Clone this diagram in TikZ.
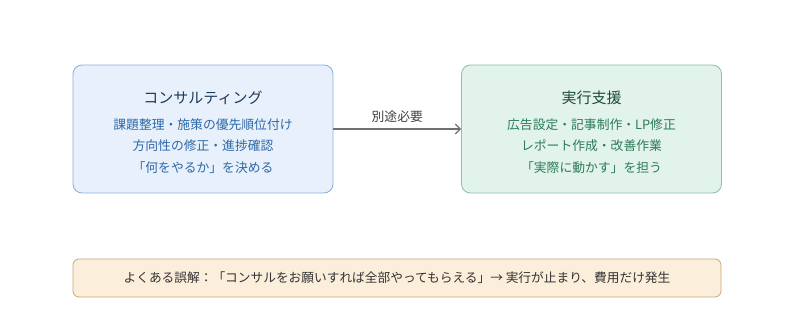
\documentclass[tikz,border=0pt]{standalone}
\usepackage{fontspec}
\setmainfont{Noto Sans CJK JP}
\usetikzlibrary{arrows.meta}

\definecolor{consultfill}{HTML}{E8F1FB}
\definecolor{consultdraw}{HTML}{8AAEDC}
\definecolor{consulttitle}{HTML}{1F3B5C}
\definecolor{consulttext}{HTML}{2D68A8}
\definecolor{supportfill}{HTML}{E2F3EB}
\definecolor{supportdraw}{HTML}{86C2A4}
\definecolor{supporttitle}{HTML}{1D4A36}
\definecolor{supporttext}{HTML}{2C7C58}
\definecolor{notefill}{HTML}{FBEEDB}
\definecolor{notedraw}{HTML}{C8A67C}
\definecolor{arrowgray}{HTML}{707070}

\tikzset{
  roundbox/.style={rounded corners=9pt, line width=0.8pt, minimum width=260pt, minimum height=128pt},
  titletext/.style={font=\fontsize{15}{18}\selectfont},
  bodytext/.style={font=\fontsize{12.8}{21.5}\selectfont, align=center}
}

\begin{document}
\begin{tikzpicture}[>={Straight Barb[length=5pt]}, x=1pt, y=-1pt]
    \useasboundingbox (0,0) rectangle (796,334);

    \node[roundbox, fill=consultfill, draw=consultdraw] (consult) at (203,129) {};
    \node[titletext, text=consulttitle] (consulthead) at (203,98) {コンサルティング};
    \node[bodytext, text=consulttext, anchor=north] (consultbody) at (203,115)
        {課題整理・施策の優先順位付け\\方向性の修正・進捗確認\\「何をやるか」を決める};

    \node[roundbox, fill=supportfill, draw=supportdraw] (support) at (591.5,129) {};
    \node[titletext, text=supporttitle] (supporthead) at (591.5,98) {実行支援};
    \node[bodytext, text=supporttext, anchor=north] (supportbody) at (591.5,115)
        {広告設定・記事制作・LP修正\\レポート作成・改善作業\\「実際に動かす」を担う};

    \draw[->, line width=1.2pt, arrowgray] (consult.east) -- (support.west)
        node[midway, above, yshift=3pt, text=black!75, font=\fontsize{12.8}{15}\selectfont] {別途必要};

    \node[rounded corners=6pt, line width=0.8pt, fill=notefill, draw=notedraw,
          minimum width=648pt, minimum height=38pt, text=black!80,
          font=\fontsize{12.7}{15}\selectfont] (note) at (397,278)
        {よくある誤解：「コンサルをお願いすれば全部やってもらえる」→ 実行が止まり、費用だけ発生};
\end{tikzpicture}
\end{document}
